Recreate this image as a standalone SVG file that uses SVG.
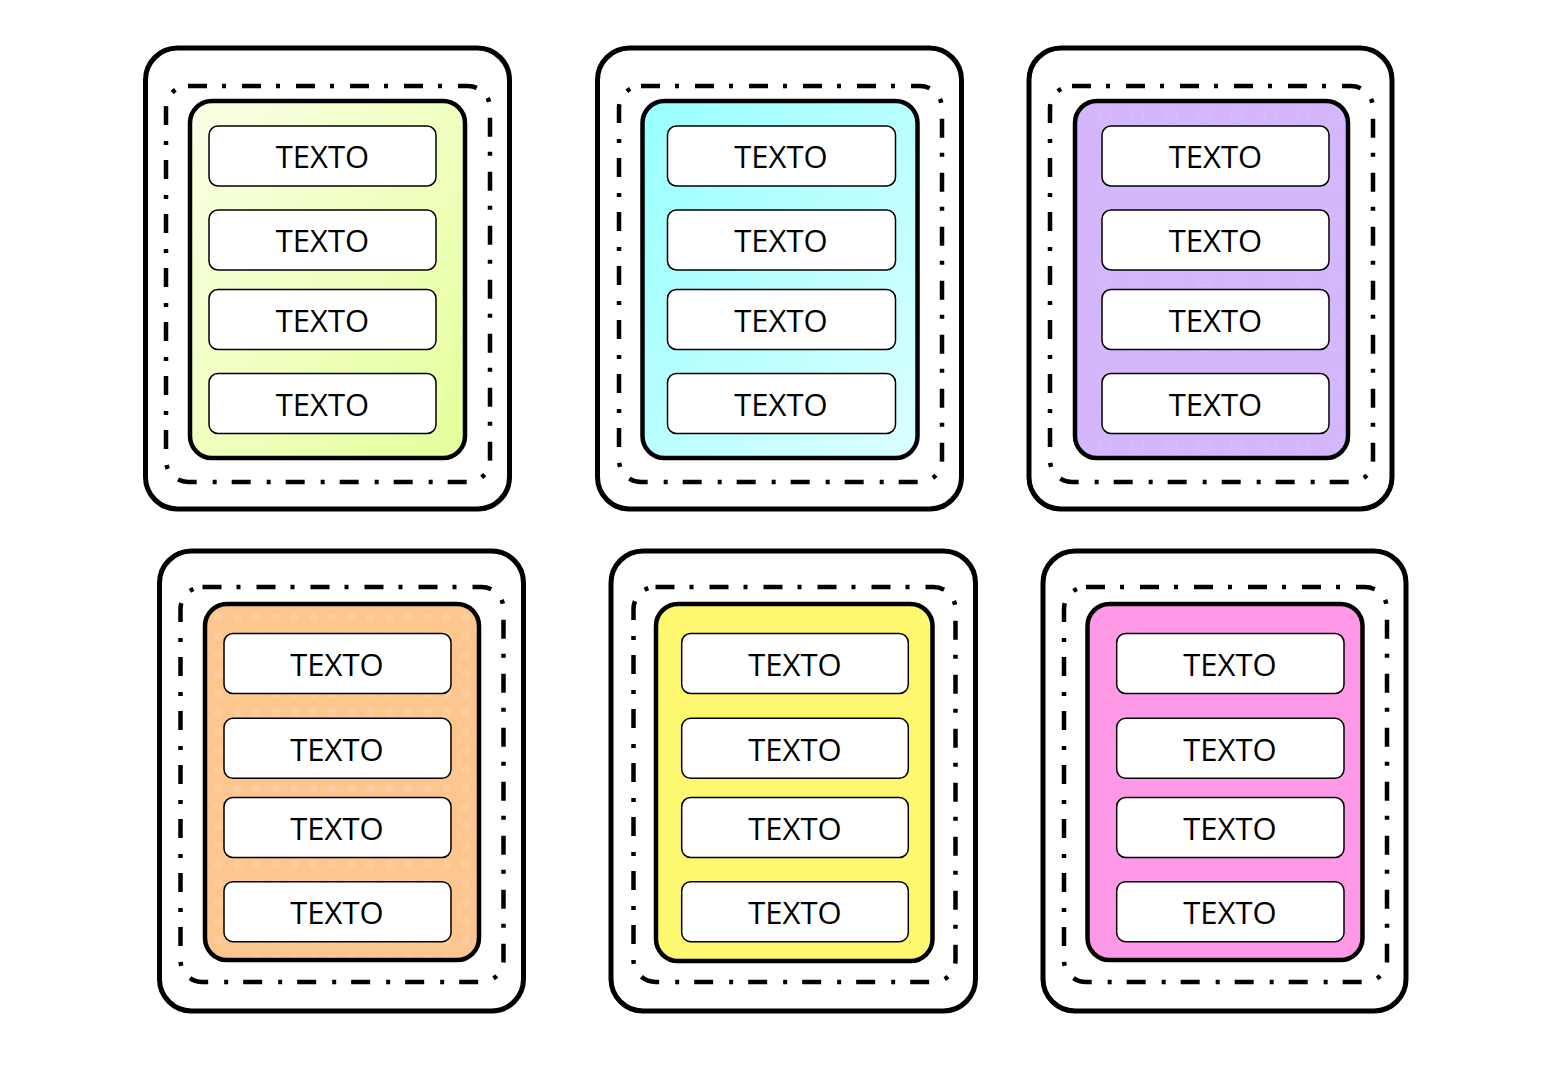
<svg xmlns="http://www.w3.org/2000/svg" width="1557" height="1078" viewBox="0 0 1557 1078">
<style>
.outer{fill:#ffffff;stroke:#000;stroke-width:5}
.dash{fill:none;stroke:#000;stroke-width:4.5;stroke-dasharray:19 15 4 16}
.inner{stroke:#000;stroke-width:4.5}
.box{fill:#ffffff;stroke:#000;stroke-width:1.5}
.t{font-family:"Open Sans","Noto Sans","Liberation Sans",sans-serif;font-size:31px;fill:#000;text-anchor:middle}
</style>
<defs>
<linearGradient id="gGreen" x1="0" y1="0" x2="1" y2="1">
<stop offset="0" stop-color="#faffe6"/>
<stop offset="1" stop-color="#e5ff9a"/>
</linearGradient>
<linearGradient id="gCyan" x1="0" y1="0" x2="1" y2="1">
<stop offset="0" stop-color="#98ffff"/>
<stop offset="1" stop-color="#dbffff"/>
</linearGradient>
<pattern id="pPurple" width="33" height="33" patternUnits="userSpaceOnUse">
<rect width="33" height="33" fill="#d4b6fd"/>
<path d="M16 10 a6 6 0 1 1 -6 6 a4 4 0 0 1 4 -4" fill="none" stroke="#d9befd" stroke-width="1.2"/>
</pattern>
<pattern id="pOrange" width="19" height="19" patternUnits="userSpaceOnUse">
<rect width="19" height="19" fill="#fdc68f"/>
<circle cx="9.5" cy="9.5" r="4.5" fill="#fdcd9d"/>
</pattern>
</defs>

<g id="card1">
<rect class="outer" x="145.5" y="48" width="364" height="461" rx="32"/>
<rect class="dash" x="166" y="86" width="324" height="396" rx="22"/>
<rect class="inner" fill="url(#gGreen)" x="190" y="101" width="275" height="357" rx="22"/>
<rect class="box" x="209" y="126" width="227" height="60" rx="9"/>
<rect class="box" x="209" y="210" width="227" height="60" rx="9"/>
<rect class="box" x="209" y="289.5" width="227" height="60" rx="9"/>
<rect class="box" x="209" y="373.5" width="227" height="60" rx="9"/>
<text class="t" x="322.5" y="168">TEXTO</text>
<text class="t" x="322.5" y="252">TEXTO</text>
<text class="t" x="322.5" y="331.5">TEXTO</text>
<text class="t" x="322.5" y="415.5">TEXTO</text>
</g>

<g id="card2">
<rect class="outer" x="597.5" y="48" width="364" height="461" rx="32"/>
<rect class="dash" x="619" y="86" width="323" height="396" rx="22"/>
<rect class="inner" fill="url(#gCyan)" x="642.5" y="101" width="275" height="357" rx="22"/>
<rect class="box" x="667.5" y="126" width="228" height="60" rx="9"/>
<rect class="box" x="667.5" y="210" width="228" height="60" rx="9"/>
<rect class="box" x="667.5" y="289.5" width="228" height="60" rx="9"/>
<rect class="box" x="667.5" y="373.5" width="228" height="60" rx="9"/>
<text class="t" x="781" y="168">TEXTO</text>
<text class="t" x="781" y="252">TEXTO</text>
<text class="t" x="781" y="331.5">TEXTO</text>
<text class="t" x="781" y="415.5">TEXTO</text>
</g>

<g id="card3">
<rect class="outer" x="1029" y="48" width="363" height="461" rx="32"/>
<rect class="dash" x="1050" y="86" width="323" height="396" rx="22"/>
<rect class="inner" fill="url(#pPurple)" x="1075" y="101" width="273" height="357" rx="22"/>
<rect class="box" x="1102" y="126" width="227" height="60" rx="9"/>
<rect class="box" x="1102" y="210" width="227" height="60" rx="9"/>
<rect class="box" x="1102" y="289.5" width="227" height="60" rx="9"/>
<rect class="box" x="1102" y="373.5" width="227" height="60" rx="9"/>
<text class="t" x="1215.5" y="168">TEXTO</text>
<text class="t" x="1215.5" y="252">TEXTO</text>
<text class="t" x="1215.5" y="331.5">TEXTO</text>
<text class="t" x="1215.5" y="415.5">TEXTO</text>
</g>

<g id="card4">
<rect class="outer" x="159.5" y="551" width="364" height="460" rx="32"/>
<rect class="dash" x="180.5" y="587" width="323" height="395" rx="22"/>
<rect class="inner" fill="url(#pOrange)" x="205" y="604" width="274" height="356" rx="22"/>
<rect class="box" x="224" y="633.5" width="227" height="60" rx="9"/>
<rect class="box" x="224" y="718.3" width="227" height="60" rx="9"/>
<rect class="box" x="224" y="797.5" width="227" height="60" rx="9"/>
<rect class="box" x="224" y="881.7" width="227" height="60" rx="9"/>
<text class="t" x="337" y="676">TEXTO</text>
<text class="t" x="337" y="760.8">TEXTO</text>
<text class="t" x="337" y="840">TEXTO</text>
<text class="t" x="337" y="924.2">TEXTO</text>
</g>

<g id="card5">
<rect class="outer" x="611" y="551" width="364.5" height="460" rx="32"/>
<rect class="dash" x="633.5" y="587" width="322" height="395" rx="22"/>
<rect class="inner" fill="#fef870" x="656" y="604" width="276.5" height="357" rx="22"/>
<rect class="box" x="681.7" y="633.5" width="226.6" height="60" rx="9"/>
<rect class="box" x="681.7" y="718.3" width="226.6" height="60" rx="9"/>
<rect class="box" x="681.7" y="797.5" width="226.6" height="60" rx="9"/>
<rect class="box" x="681.7" y="881.7" width="226.6" height="60" rx="9"/>
<text class="t" x="795" y="676">TEXTO</text>
<text class="t" x="795" y="760.8">TEXTO</text>
<text class="t" x="795" y="840">TEXTO</text>
<text class="t" x="795" y="924.2">TEXTO</text>
</g>

<g id="card6">
<rect class="outer" x="1043" y="551" width="363" height="460" rx="32"/>
<rect class="dash" x="1064" y="587" width="323" height="395" rx="22"/>
<rect class="inner" fill="#fd99e7" x="1087.5" y="604" width="275" height="356" rx="22"/>
<rect class="box" x="1116.7" y="633.5" width="227.3" height="60" rx="9"/>
<rect class="box" x="1116.7" y="718.3" width="227.3" height="60" rx="9"/>
<rect class="box" x="1116.7" y="797.5" width="227.3" height="60" rx="9"/>
<rect class="box" x="1116.7" y="881.7" width="227.3" height="60" rx="9"/>
<text class="t" x="1230" y="676">TEXTO</text>
<text class="t" x="1230" y="760.8">TEXTO</text>
<text class="t" x="1230" y="840">TEXTO</text>
<text class="t" x="1230" y="924.2">TEXTO</text>
</g>

<g id="connectors"/>
</svg>
